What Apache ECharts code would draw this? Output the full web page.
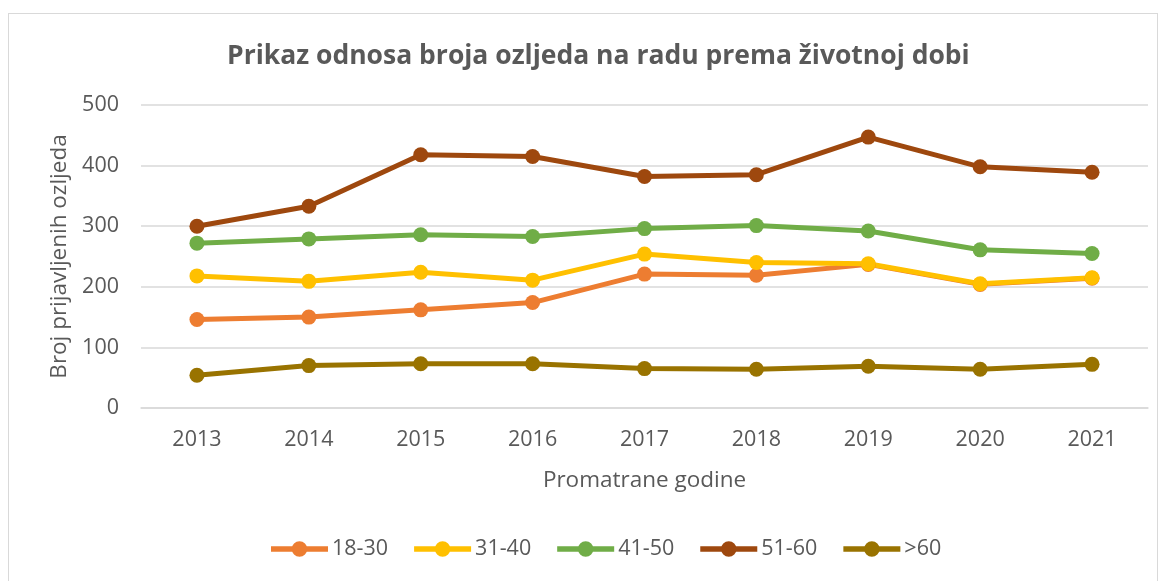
<!DOCTYPE html>
<html>
<head>
<meta charset="utf-8">
<script src="https://cdn.jsdelivr.net/npm/echarts@6/dist/echarts.min.js"></script>
<style>
    body { margin: 0; background: #fff; }
    #frame {
        position: absolute; left: 8px; top: 13px; width: 1150px; height: 575px;
        border: 1px solid #d9d9d9; box-sizing: border-box;
    }
    #chart { position: absolute; left: 0; top: 0; width: 1168px; height: 581px; }
</style>
</head>
<body>
<div id="frame"></div>
<div id="chart"></div>
<script>
    var years = ['2013', '2014', '2015', '2016', '2017', '2018', '2019', '2020', '2021'];
    var age18to30 = [146, 150, 162, 174, 221, 219, 237, 204, 214];
    var age31to40 = [218, 209, 224, 211, 254, 240, 238, 205, 215];
    var age41to50 = [272, 279, 286, 283, 296, 301, 292, 261, 255];
    var age51to60 = [300, 333, 418, 415, 382, 385, 447, 398, 389];
    var ageOver60 = [54, 70, 73, 73, 65, 64, 69, 64, 72];
    var yTicks = [0, 100, 200, 300, 400, 500];
    var groups = ['18-30', '31-40', '41-50', '51-60', '>60'];

    var font = '"Open Sans", "Noto Sans", sans-serif';
    // legend symbol: thick line with a dot in the middle (both drawn clockwise so they merge)
    var legendIcon = 'path://M0,5H57V10.5H0Z M28.5,0A7.75,7.75 0 1 1 28.5,15.5A7.75,7.75 0 1 1 28.5,0Z';
    var chart = echarts.init(document.getElementById('chart'));

    function line(name, data, color) {
        return {
            name: name,
            type: 'line',
            data: data,
            symbol: 'circle',
            symbolSize: 15,
            lineStyle: { width: 5, color: color },
            itemStyle: { color: color },
            z: 3
        };
    }

    chart.setOption({
        animation: false,
        textStyle: { fontFamily: font },
        title: {
            text: 'Prikaz odnosa broja ozljeda na radu prema životnoj dobi',
            left: 222,
            top: 38,
            textStyle: { fontSize: 26.5, fontWeight: 'bold', color: '#595959', fontFamily: font }
        },
        legend: {
            bottom: 16,
            left: 266,
            icon: legendIcon,
            itemWidth: 57,
            itemHeight: 15.5,
            itemGap: 26,
            textStyle: { fontSize: 21.5, color: '#595959', fontFamily: font, padding: [0, 0, 0, -1] },
            data: groups
        },
        grid: { left: 141, right: 20, top: 105, bottom: 173 },
        xAxis: {
            type: 'category',
            data: years,
            boundaryGap: true,
            name: 'Promatrane godine',
            nameLocation: 'middle',
            nameGap: 61,
            nameTextStyle: { fontSize: 22.5, color: '#595959' },
            axisLine: { lineStyle: { color: '#d9d9d9', width: 1.5 } },
            axisTick: { show: false },
            axisLabel: { fontSize: 21.5, color: '#595959', margin: 21 }
        },
        yAxis: {
            type: 'value',
            min: yTicks[0],
            max: yTicks[yTicks.length - 1],
            interval: 100,
            name: 'Broj prijavljenih ozljeda',
            nameLocation: 'middle',
            nameGap: 68,
            nameTextStyle: { fontSize: 22.5, color: '#595959' },
            axisLine: { show: false },
            axisTick: { show: false },
            axisLabel: { fontSize: 21.5, color: '#595959', margin: 22 },
            splitLine: { lineStyle: { color: '#d9d9d9', width: 1.5 } }
        },
        series: [
            line(groups[0], age18to30, '#ED7D31'),
            line(groups[1], age31to40, '#FFC000'),
            line(groups[2], age41to50, '#70AD47'),
            line(groups[3], age51to60, '#9E480E'),
            line(groups[4], ageOver60, '#997300')
        ]
    });
</script>
</body>
</html>
